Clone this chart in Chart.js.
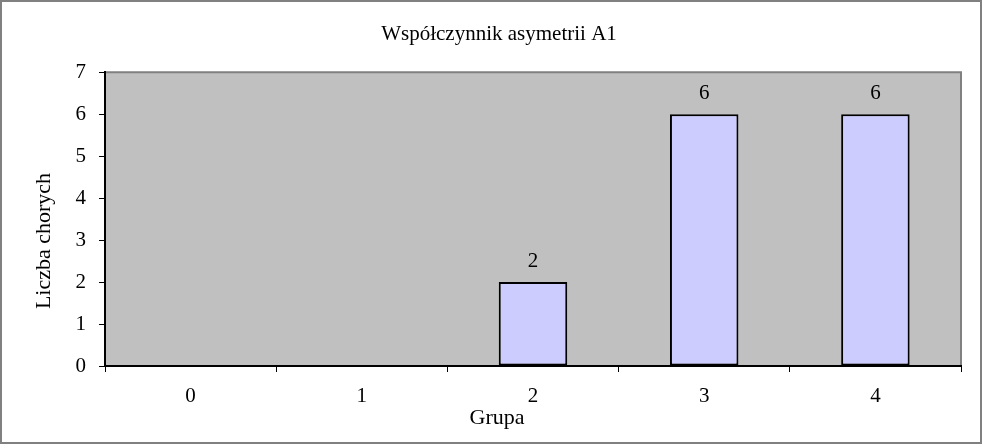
<!DOCTYPE html>
<html>
<head>
<meta charset="utf-8">
<script src="https://cdn.jsdelivr.net/npm/chart.js@4"></script>
<style>
  body { margin: 0; background: #fff; }
  canvas { display: block; }
</style>
</head>
<body>
<canvas id="chart" width="983" height="444"></canvas>
<script>
// dane wykresu
const groups = ['0', '1', '2', '3', '4'];
const patients = [0, 0, 2, 6, 6];
const yTicks = [0, 1, 2, 3, 4, 5, 6, 7];

const chartTitle = 'Współczynnik asymetrii A1';
const xTitle = 'Grupa';
const yTitle = 'Liczba chorych';

const serif = "'Liberation Serif', 'Times New Roman', serif";

// tlo, ramka i szary obszar wykresu
const background = {
  id: 'background',
  beforeDraw(chart) {
    const ctx = chart.ctx;
    const a = chart.chartArea;
    ctx.save();
    ctx.fillStyle = '#fff';
    ctx.fillRect(0, 0, chart.width, chart.height);
    ctx.strokeStyle = '#808080';
    ctx.lineWidth = 2;
    ctx.strokeRect(1, 1, chart.width - 3, chart.height - 2);
    ctx.fillStyle = '#C0C0C0';
    ctx.fillRect(a.left, a.top, a.right - a.left, a.bottom - a.top);
    ctx.lineWidth = 2;
    ctx.beginPath();
    ctx.moveTo(a.left, a.top);
    ctx.lineTo(a.right, a.top);
    ctx.lineTo(a.right, a.bottom);
    ctx.stroke();
    ctx.restore();
  }
};

// etykiety wartosci nad slupkami + tytuly osi
const labels = {
  id: 'labels',
  afterDatasetsDraw(chart) {
    const ctx = chart.ctx;
    ctx.save();
    ctx.fillStyle = '#000';
    ctx.font = '21px ' + serif;
    ctx.textAlign = 'center';
    ctx.textBaseline = 'middle';
    chart.getDatasetMeta(0).data.forEach((bar, i) => {
      if (patients[i] > 0) ctx.fillText(String(patients[i]), bar.x, bar.y - 21);
    });
    ctx.font = '22px ' + serif;
    ctx.fillText(xTitle, 497, 418);
    ctx.translate(44, 241);
    ctx.rotate(-Math.PI / 2);
    ctx.fillText(yTitle, 0, 0);
    ctx.restore();
  }
};

new Chart(document.getElementById('chart'), {
  type: 'bar',
  data: {
    labels: groups,
    datasets: [{
      data: patients,
      backgroundColor: '#CCCCFF',
      borderColor: '#000',
      borderWidth: 2,
      borderSkipped: false,
      barPercentage: 0.4,
      categoryPercentage: 1.0
    }]
  },
  options: {
    responsive: false,
    animation: false,
    devicePixelRatio: 1,
    layout: { padding: { left: 37, right: 22, top: 0, bottom: 0 } },
    plugins: {
      legend: { display: false },
      tooltip: { enabled: false },
      title: {
        display: true,
        text: chartTitle,
        color: '#000',
        font: { family: serif, size: 21, weight: 'normal' },
        padding: { top: 22, bottom: 25 }
      }
    },
    scales: {
      x: {
        afterFit: s => { s.height = 78; },
        grid: { offset: true, drawOnChartArea: false, tickLength: 6, color: '#000' },
        border: { display: true, color: '#000', width: 2 },
        ticks: { color: '#000', padding: 12, font: { family: serif, size: 21 } }
      },
      y: {
        min: 0,
        max: 7,
        afterFit: s => { s.width = 68; },
        afterBuildTicks: s => { s.ticks = yTicks.map(v => ({ value: v })); },
        grid: { drawOnChartArea: false, tickLength: 6, color: '#000' },
        border: { display: true, color: '#000', width: 2 },
        ticks: { color: '#000', padding: 13, font: { family: serif, size: 21 } }
      }
    }
  },
  plugins: [background, labels]
});
</script>
</body>
</html>
